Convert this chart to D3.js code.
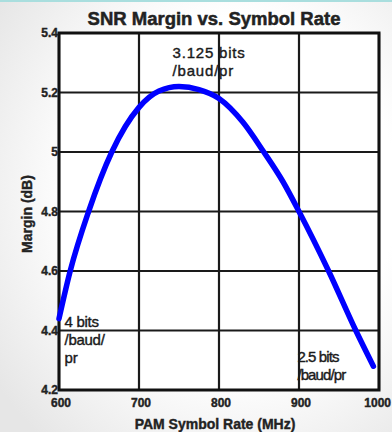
<!DOCTYPE html>
<html>
<head>
<meta charset="utf-8">
<script src="https://cdn.jsdelivr.net/npm/d3@7"></script>
<style>
    body { margin: 0; background: #fff; }
    #margin-vis { width: 392px; height: 432px; }
    text { font-family: "Liberation Sans", Arial, sans-serif; }
</style>
</head>
<body>
<div id="margin-vis"></div>
<script>
// symbol rate (MHz) and SNR margin (dB)
let symbolRate = [600, 614, 637, 666, 700, 725, 750, 775, 800, 830, 856, 880, 900, 937, 971, 993];
let marginDb   = [4.44, 4.6, 4.8, 5.0, 5.15, 5.205, 5.22, 5.21, 5.18, 5.1, 5.0, 4.9, 4.8, 4.6, 4.4, 4.28];

let xTicks = [600, 700, 800, 900, 1000];
let yTicks = [4.2, 4.4, 4.6, 4.8, 5, 5.2, 5.4];

// bits per baud per pair notes, placed at (rate, margin) of their first line
let noteLines = [["3.125 bits", "/baud/pr"], ["4 bits", "/baud/", "pr"], ["2.5 bits", "/baud/pr"]];
let noteRate = [742, 607, 898];
let noteMargin = [5.316, 4.412, 4.294];
let noteSpacing = [0.8, -0.3, -0.9];

/**
 * Constructor for the MarginChart
 */
function MarginChart(){
    let self = this;

    self.init();
};

/**
 * Sets up the svg, scales and background
 */
MarginChart.prototype.init = function(){
    let self = this;
    self.margin = {top: 33, right: 13, bottom: 42, left: 59};
    self.svgWidth = 392;
    self.svgHeight = 432;

    self.svg = d3.select("#margin-vis").append("svg")
        .attr("width", self.svgWidth)
        .attr("height", self.svgHeight);

    let defs = self.svg.append("defs");
    let grad = defs.append("radialGradient").attr("id", "bg-grad")
        .attr("cx", "60%").attr("cy", "45%").attr("r", "75%");
    grad.append("stop").attr("offset", "55%").attr("stop-color", "#ffffff");
    grad.append("stop").attr("offset", "100%").attr("stop-color", "#e6e6e6");

    self.svg.append("rect").attr("width", self.svgWidth).attr("height", self.svgHeight)
        .style("fill", "url(#bg-grad)");
    self.svg.append("rect").attr("width", self.svgWidth).attr("height", 2)
        .style("fill", "#a9dede");

    self.x = d3.scaleLinear().domain([600, 1000])
        .range([self.margin.left, self.svgWidth - self.margin.right]);
    self.y = d3.scaleLinear().domain([4.2, 5.4])
        .range([self.svgHeight - self.margin.bottom, self.margin.top]);
};

/**
 * Draws grid, axes, curve and notes
 */
MarginChart.prototype.update = function(){
    let self = this;
    let x = self.x, y = self.y;

    self.svg.append("rect")
        .attr("x", x(600)).attr("y", y(5.4))
        .attr("width", x(1000) - x(600)).attr("height", y(4.2) - y(5.4))
        .style("fill", "#fff");

    //grid lines
    self.svg.append("g").selectAll("line").data(xTicks).join("line")
        .attr("x1", d => x(d)).attr("x2", d => x(d))
        .attr("y1", y(5.4)).attr("y2", y(4.2))
        .style("stroke", "#1a1a1a").style("stroke-width", 2.2);
    self.svg.append("g").selectAll("line").data(yTicks).join("line")
        .attr("x1", x(600)).attr("x2", x(1000))
        .attr("y1", d => y(d)).attr("y2", d => y(d))
        .style("stroke", "#1a1a1a").style("stroke-width", 2.2);

    self.svg.append("rect")
        .attr("x", x(600)).attr("y", y(5.4))
        .attr("width", x(1000) - x(600)).attr("height", y(4.2) - y(5.4))
        .style("fill", "none").style("stroke", "#111").style("stroke-width", 3);

    //tick labels
    self.svg.append("g").selectAll("text").data(yTicks).join("text")
        .attr("x", x(600) - 1).attr("y", d => y(d) + 4)
        .attr("text-anchor", "end")
        .style("font-size", "12px").style("font-weight", "bold").style("fill", "#222")
        .style("stroke", "#222").style("stroke-width", 0.4)
        .text(d => d3.format("")(d));
    // last label would run off the edge, so pin it to the right side
    self.svg.append("g").selectAll("text").data(xTicks).join("text")
        .attr("x", (d, i) => i === xTicks.length - 1 ? self.svgWidth - 1 : x(d) + 2)
        .attr("y", y(4.2) + 17)
        .attr("text-anchor", (d, i) => i === xTicks.length - 1 ? "end" : "middle")
        .style("font-size", "12px").style("font-weight", "bold").style("fill", "#222")
        .style("stroke", "#222").style("stroke-width", 0.4)
        .text(d => d);

    //titles
    self.svg.append("text")
        .attr("x", 214).attr("y", 25).attr("text-anchor", "middle")
        .style("font-size", "18.5px").style("font-weight", "bold").style("fill", "#222")
        .style("stroke", "#222").style("stroke-width", 0.5)
        .text("SNR Margin vs. Symbol Rate");
    self.svg.append("text")
        .attr("x", 215).attr("y", 429).attr("text-anchor", "middle")
        .style("font-size", "14px").style("font-weight", "bold").style("fill", "#222")
        .style("stroke", "#222").style("stroke-width", 0.4)
        .text("PAM Symbol Rate (MHz)");
    self.svg.append("text")
        .attr("transform", "translate(32," + 214 + ") rotate(-90)")
        .attr("text-anchor", "middle")
        .style("font-size", "14px").style("font-weight", "bold").style("fill", "#222")
        .style("stroke", "#222").style("stroke-width", 0.4)
        .text("Margin (dB)");

    //the curve
    let line = d3.line()
        .x((d, i) => x(symbolRate[i]))
        .y(d => y(d))
        .curve(d3.curveMonotoneX);
    self.svg.append("path").datum(marginDb)
        .attr("d", line)
        .style("fill", "none").style("stroke", "#0000ff")
        .style("stroke-width", 5.5).style("stroke-linecap", "round");

    //notes
    noteLines.forEach(function(lines, k){
        let t = self.svg.append("text")
            .attr("x", x(noteRate[k])).attr("y", y(noteMargin[k]))
            .style("font-size", "15px").style("fill", "#1a1a1a")
            .style("stroke", "#1a1a1a").style("stroke-width", 0.4)
            .style("letter-spacing", noteSpacing[k] + "px");
        lines.forEach(function(s, j){
            t.append("tspan").attr("x", x(noteRate[k])).attr("dy", j === 0 ? 0 : 18).text(s);
        });
    });
}

let chart = new MarginChart();
chart.update();
</script>
</body>
</html>
